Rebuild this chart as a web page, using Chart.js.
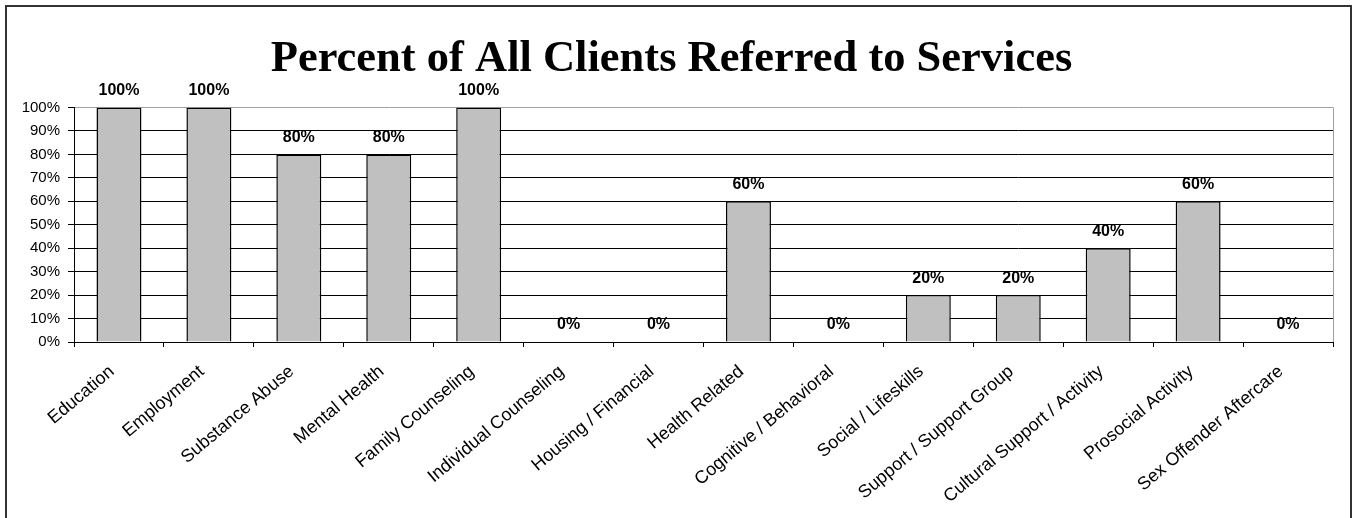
<!DOCTYPE html>
<html>
<head>
<meta charset="utf-8">
<script src="https://cdn.jsdelivr.net/npm/chart.js@4.4.1/dist/chart.umd.min.js"></script>
<style>
  html, body { margin: 0; padding: 0; background: #fff; }
  body { width: 1354px; height: 518px; position: relative; overflow: hidden; }
  .frame { position: absolute; left: 5px; top: 5px; width: 1343px; height: 540px; border: 2px solid #333; }
  #wrap { position: absolute; left: 0; top: 0; width: 1354px; height: 518px; }
</style>
</head>
<body>
<div class="frame"></div>
<div id="wrap"><canvas id="myChart"></canvas></div>
<script>
const services = [
  'Education', 'Employment', 'Substance Abuse', 'Mental Health', 'Family Counseling',
  'Individual Counseling', 'Housing / Financial', 'Health Related', 'Cognitive / Behavioral',
  'Social / Lifeskills', 'Support / Support Group', 'Cultural Support / Activity',
  'Prosocial Activity', 'Sex Offender Aftercare'
];
const percentReferred = [100, 100, 80, 80, 100, 0, 0, 60, 0, 20, 20, 40, 60, 0];
const yTicks = [0, 10, 20, 30, 40, 50, 60, 70, 80, 90, 100];

Chart.defaults.font.family = "'Liberation Sans', Arial, sans-serif";
Chart.defaults.color = '#000';

// value above each bar
const valueLabels = {
  id: 'valueLabels',
  afterDatasetsDraw(chart) {
    const { ctx } = chart;
    const meta = chart.getDatasetMeta(0);
    ctx.save();
    ctx.font = "bold 16px 'Liberation Sans', Arial, sans-serif";
    ctx.fillStyle = '#000';
    ctx.textAlign = 'center';
    ctx.textBaseline = 'middle';
    meta.data.forEach((bar, i) => {
      ctx.fillText(percentReferred[i] + '%', bar.x, bar.y - 17);
    });
    ctx.restore();
  }
};

// grey edge on the right of the plot area
const plotEdge = {
  id: 'plotEdge',
  afterDraw(chart) {
    const { ctx, chartArea } = chart;
    ctx.save();
    ctx.strokeStyle = '#a0a0a0';
    ctx.lineWidth = 1;
    ctx.beginPath();
    ctx.moveTo(Math.round(chartArea.right) + 0.5, chartArea.top);
    ctx.lineTo(Math.round(chartArea.right) + 0.5, chartArea.bottom);
    ctx.stroke();
    ctx.restore();
  }
};

const ctx = document.getElementById('myChart').getContext('2d');

new Chart(ctx, {
  type: 'bar',
  data: {
    labels: services,
    datasets: [{
      label: 'Percent Referred',
      data: percentReferred,
      backgroundColor: '#c0c0c0',
      borderColor: '#000',
      borderWidth: 1.5,
      barPercentage: 0.5,
      categoryPercentage: 1
    }]
  },
  options: {
    responsive: true,
    maintainAspectRatio: false,
    animation: false,
    layout: { padding: { left: 10, right: 21, top: 0, bottom: 0 } },
    plugins: {
      legend: { display: false },
      tooltip: { enabled: false },
      title: {
        display: true,
        text: 'Percent of All Clients Referred to Services',
        color: '#000',
        font: { family: "'Liberation Serif', 'Times New Roman', serif", size: 44.5, weight: 'bold', lineHeight: 1 },
        padding: { top: 37, bottom: 26 }
      }
    },
    scales: {
      x: {
        grid: { display: true, drawOnChartArea: false, drawTicks: true, tickLength: 5, color: '#000', offset: true },
        border: { color: '#000' },
        ticks: {
          autoSkip: false,
          maxRotation: 40,
          minRotation: 40,
          padding: 14,
          labelOffset: -7,
          font: { size: 18 }
        },
        afterFit(scale) { scale.height = 176; }
      },
      y: {
        min: 0,
        max: 100,
        afterBuildTicks(scale) { scale.ticks = yTicks.map(v => ({ value: v })); },
        grid: {
          color: (c) => (c.tick && c.tick.value === 100 ? '#a0a0a0' : '#000'),
          tickColor: '#000',
          tickLength: 6
        },
        border: { color: '#000' },
        ticks: {
          padding: 8,
          font: { size: 15 },
          callback: (v) => v + '%'
        },
        afterFit(scale) { scale.width = 64; }
      }
    }
  },
  plugins: [valueLabels, plotEdge]
});
</script>
</body>
</html>
